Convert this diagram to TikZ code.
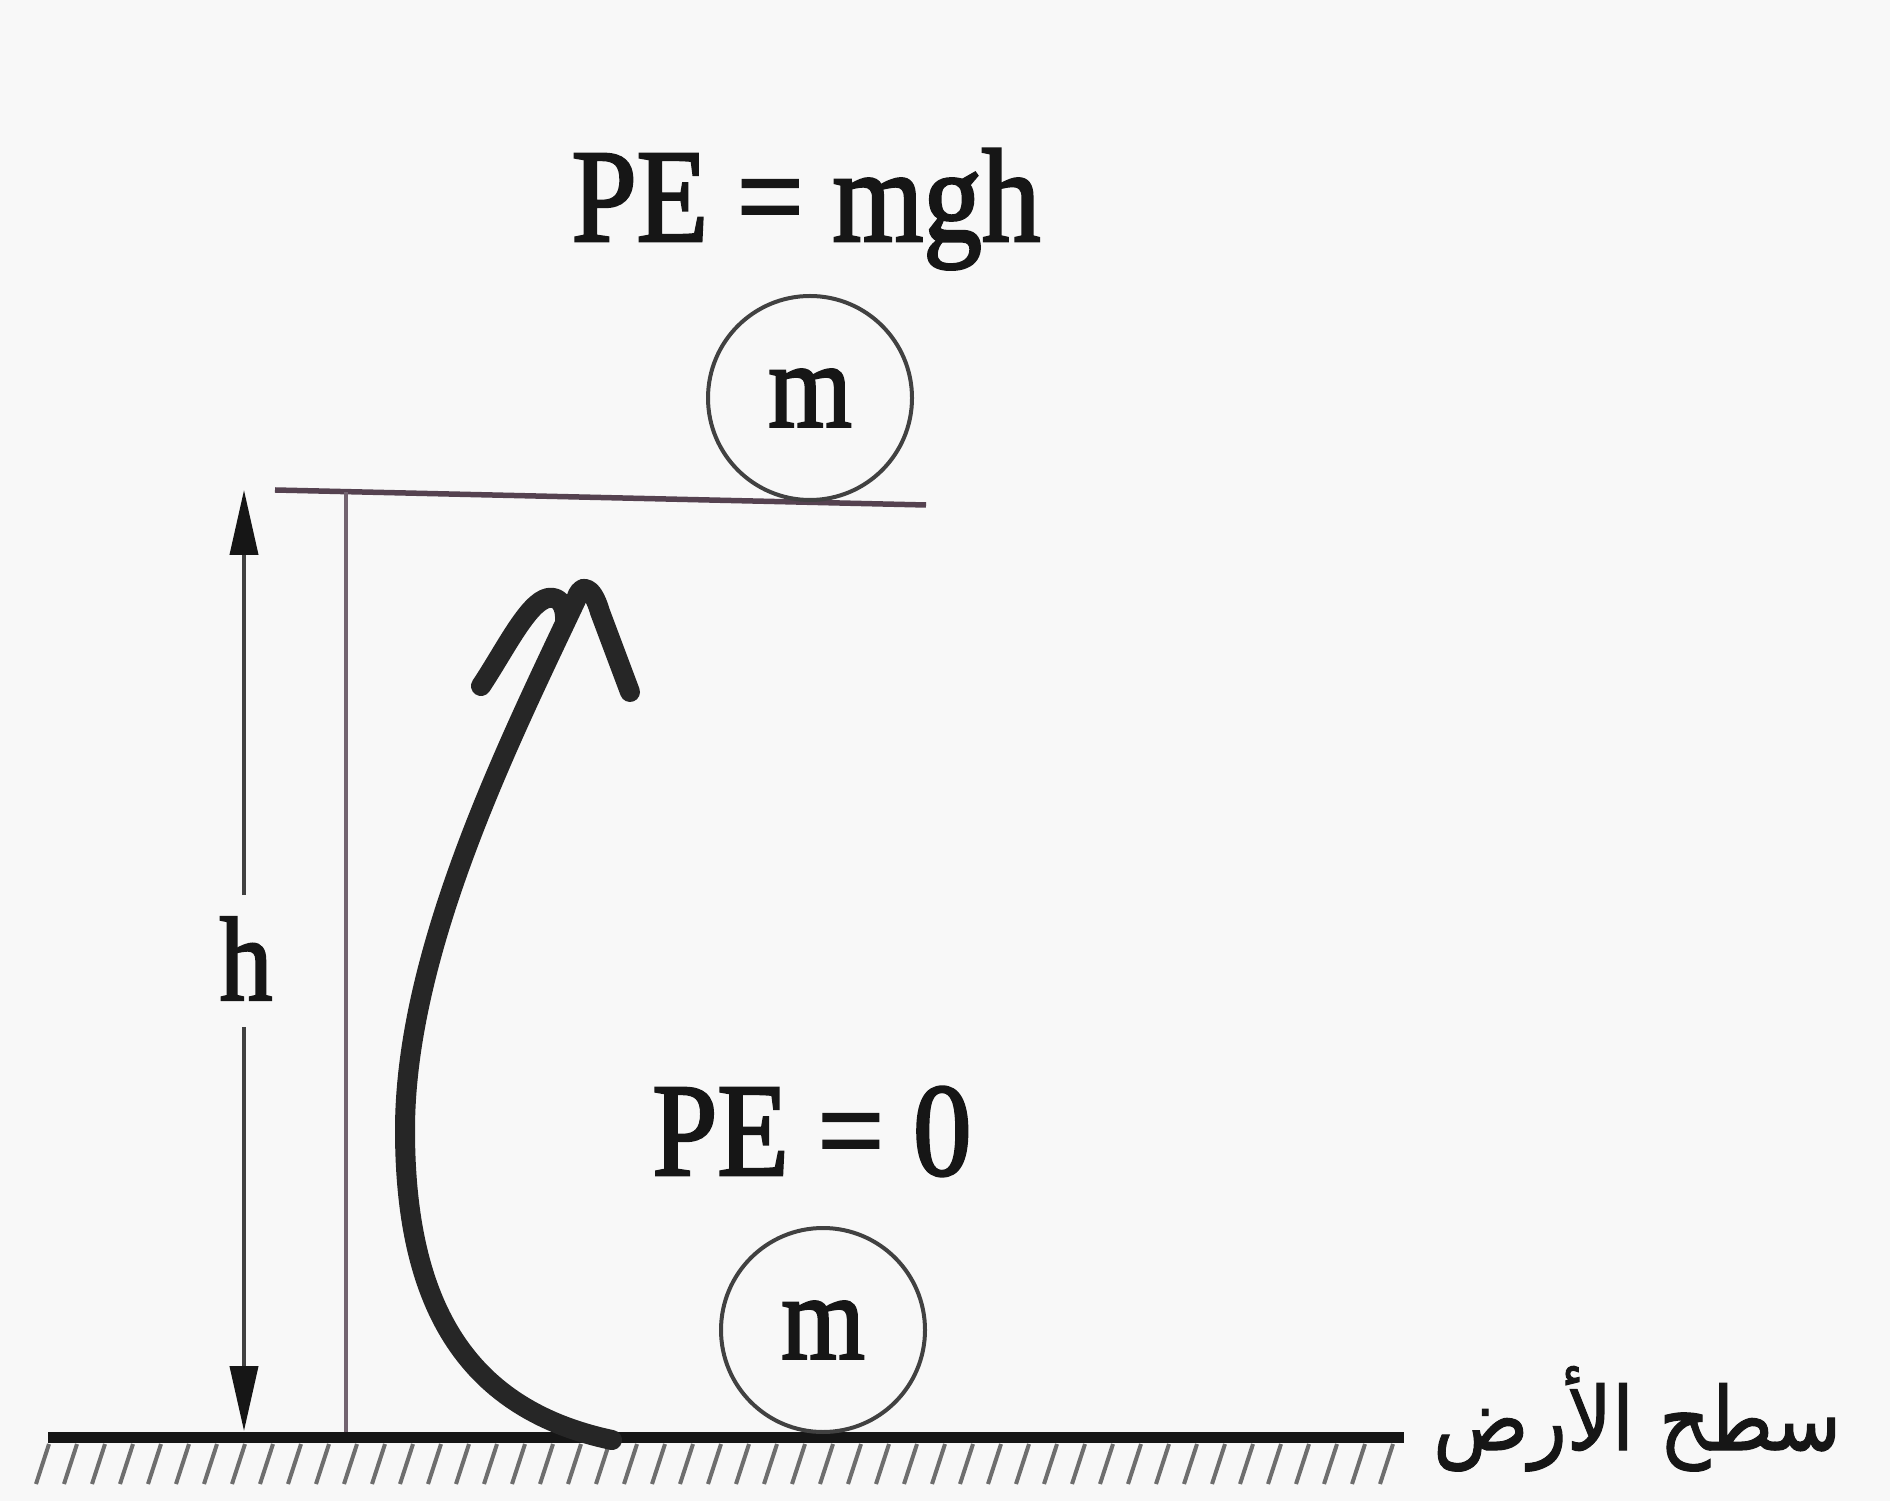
\documentclass[tikz,border=0pt]{standalone}
\usepackage{fontspec}
\setmainfont{Liberation Serif}[FakeStretch=0.88,FakeBold=2]
\newfontfamily\arabicfont[Script=Arabic,FakeBold=1.2,FakeStretch=0.9]{DejaVu Sans}
\TeXXeTstate=1
\usetikzlibrary{arrows.meta}
\definecolor{paper}{RGB}{248,248,248}
\definecolor{ink}{RGB}{22,22,22}
\definecolor{pen}{RGB}{38,38,38}
\definecolor{plat}{RGB}{85,66,80}
\definecolor{post}{RGB}{115,100,112}
\definecolor{hatchc}{RGB}{110,110,110}
\definecolor{ringc}{RGB}{65,65,65}
\begin{document}
\begin{tikzpicture}[x=0.1mm,y=-0.1mm,
  ball/.style={circle,draw=ringc,line width=0.4mm,minimum size=20.4mm,inner sep=0pt,
    text=ink,font=\fontsize{34.7pt}{36pt}\selectfont},
  eqn/.style={anchor=base,inner sep=0pt,text=ink,font=\fontsize{37.8pt}{40pt}\selectfont},
  hlabel/.style={anchor=base,inner sep=0pt,text=ink,font=\fontsize{34pt}{36pt}\selectfont},
  groundline/.style={line width=1.1mm,draw=ink},
  hatchline/.style={line width=0.4mm,draw=hatchc},
  platline/.style={line width=0.55mm,draw=plat},
  postline/.style={line width=0.4mm,draw=post},
  dimline/.style={line width=0.4mm,draw=ringc,-{Triangle[length=6.5mm,width=2.8mm,color=ink]}},
  penline/.style={line width=2mm,draw=pen,line cap=round,line join=round}]
\useasboundingbox (0,0) rectangle (1890,1501);
\fill[paper] (0,0) rectangle (1890,1501);

% ground hatch
\foreach \x in {36,64,...,1386} \draw[hatchline] (\x,1484) -- (\x+13,1444);
% ground line
\coordinate (gL) at (48,1437);
\coordinate (gR) at (1404,1437);
\draw[groundline] (gL) -- (gR);
\node[anchor=base east,inner sep=0pt,text=ink,font=\arabicfont\fontsize{25pt}{27pt}\selectfont] (ground) at (1842,1450) {\beginR سطح الأرض\endR};

% platform and post
\coordinate (pL) at (275,490);
\coordinate (pR) at (926,505);
\draw[platline] (pL) -- (pR);
\coordinate (postTop) at (346,492);
\coordinate (postBot) at (346,1432);
\draw[postline] (postTop) -- (postBot);

% balls
\node[ball] (ballTop) at (810,398) {m};
\node[ball] (ballBot) at (823,1330) {m};

% labels
\node[eqn] (peTop) at (806,241) {PE = mgh};
\node[eqn] (peBot) at (812,1175) {PE = 0};

% height arrow
\node[hlabel] (hlab) at (246,1000) {h};
\coordinate (hup) at (244,895);
\coordinate (hdn) at (244,1027);
\coordinate (htop) at (244,490);
\coordinate (hbot) at (244,1431);
\draw[dimline] (hup) -- (htop);
\draw[dimline] (hdn) -- (hbot);

% hand-drawn curved arrow
\coordinate (cStart) at (612,1440);
\coordinate (cMid) at (405,1130);
\coordinate (cTip) at (576,600);
\draw[penline] (cStart) .. controls (470,1410) and (405,1310) .. (cMid)
  .. controls (405,950) and (510,740) .. (cTip);
\draw[penline] (cTip) .. controls (580,583) and (592,584) .. (600,612) -- (630,692);
\draw[penline] (481,686) .. controls (505,650) and (528,602) .. (548,598) .. controls (560,596) and (566,606) .. (565,622);
\end{tikzpicture}
\end{document}
